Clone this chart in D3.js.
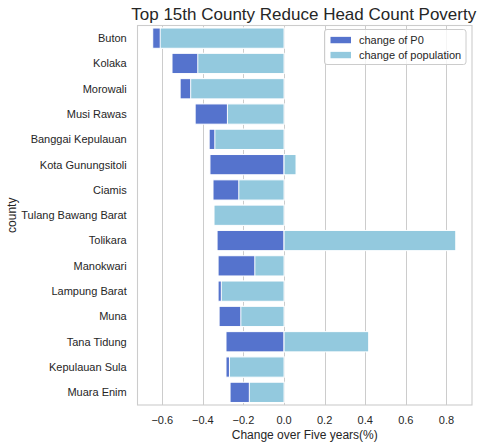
<!DOCTYPE html>
<html>
<head>
<meta charset="utf-8">
<script src="https://cdn.jsdelivr.net/npm/d3@7"></script>
<style>
  body { margin: 0; background: #fff; }
  svg { display: block; font-family: "Liberation Sans", Arial, sans-serif; }
</style>
</head>
<body>
<svg id="chart" width="485" height="446"></svg>
<script>
// ---- data ----
const counties = ["Buton", "Kolaka", "Morowali", "Musi Rawas", "Banggai Kepulauan",
  "Kota Gunungsitoli", "Ciamis", "Tulang Bawang Barat", "Tolikara", "Manokwari",
  "Lampung Barat", "Muna", "Tana Tidung", "Kepulauan Sula", "Muara Enim"];
const changeP0 = [-0.647, -0.552, -0.512, -0.438, -0.369, -0.365, -0.350, -0.340,
  -0.330, -0.325, -0.325, -0.320, -0.286, -0.286, -0.266];
const changePop = [-0.610, -0.425, -0.460, -0.279, -0.341, 0.059, -0.223, -0.345,
  0.846, -0.144, -0.309, -0.213, 0.417, -0.269, -0.171];
const xTicks = [-0.6, -0.4, -0.2, 0.0, 0.2, 0.4, 0.6, 0.8];
const seriesNames = ["change of P0", "change of population"];
const titleText = "Top 15th County Reduce Head Count Poverty";
const xLabelText = "Change over Five years(%)";
const yLabelText = "county";

// ---- layout ----
const pL = 137.5, pR = 472, pT = 25.5, pB = 405;
const colP0 = "#5573cd", colPop = "#93c9de";
const textCol = "#262626", gridCol = "#cccccc";

const svg = d3.select("#chart");
const x = d3.scaleLinear().domain([-0.722, 0.926]).range([pL, pR]);
const y = d3.scaleBand().domain(counties).range([pT, pB]).paddingInner(0.2).paddingOuter(0.1);

const fmt = v => (v < 0 ? "\u2212" : "") + Math.abs(v).toFixed(1);

// grid
svg.append("g").selectAll("line").data(xTicks).join("line")
  .attr("x1", d => Math.round(x(d)) + 0.5).attr("x2", d => Math.round(x(d)) + 0.5)
  .attr("y1", pT).attr("y2", pB)
  .attr("stroke", gridCol).attr("stroke-width", 1);

// bars: P0 first, population on top
const rows = counties.map((c, i) => ({ c, p0: changeP0[i], pop: changePop[i] }));
function drawBars(key, color) {
  svg.append("g").selectAll("rect").data(rows).join("rect")
    .attr("x", d => x(Math.min(0, d[key])))
    .attr("width", d => Math.abs(x(d[key]) - x(0)))
    .attr("y", d => y(d.c))
    .attr("height", y.bandwidth())
    .attr("fill", color)
    .attr("stroke", "#ffffff").attr("stroke-width", 1);
}
drawBars("p0", colP0);
drawBars("pop", colPop);

// frame
svg.append("rect").attr("x", pL).attr("y", pT)
  .attr("width", pR - pL).attr("height", pB - pT)
  .attr("fill", "none").attr("stroke", gridCol).attr("stroke-width", 1.1);

// y tick labels
svg.append("g").selectAll("text").data(counties).join("text")
  .attr("x", pL - 10.8)
  .attr("y", d => y(d) + y.bandwidth() / 2)
  .attr("dy", "0.35em")
  .attr("text-anchor", "end")
  .attr("font-size", "11px").attr("fill", textCol)
  .text(d => d);

// x tick labels
svg.append("g").selectAll("text").data(xTicks).join("text")
  .attr("x", d => x(d))
  .attr("y", 423.5)
  .attr("text-anchor", "middle")
  .attr("font-size", "11px").attr("fill", textCol)
  .text(fmt);

// axis labels
svg.append("text").attr("x", (pL + pR) / 2).attr("y", 438.5)
  .attr("text-anchor", "middle").attr("font-size", "12px").attr("fill", textCol)
  .text(xLabelText);
svg.append("text")
  .attr("transform", `translate(15.5,${(pT + pB) / 2}) rotate(-90)`)
  .attr("text-anchor", "middle").attr("font-size", "12px").attr("fill", textCol)
  .text(yLabelText);

// title
svg.append("text").attr("x", (pL + pR) / 2 - 1).attr("y", 19.5)
  .attr("text-anchor", "middle").attr("font-size", "17px").attr("fill", textCol)
  .text(titleText);

// legend
const lg = svg.append("g");
lg.append("rect").attr("x", 324.5).attr("y", 29.5).attr("width", 141.5).attr("height", 35)
  .attr("rx", 2.5).attr("fill", "#ffffff").attr("fill-opacity", 0.8)
  .attr("stroke", gridCol).attr("stroke-width", 1);
[colP0, colPop].forEach((c, i) => {
  const cy = 40 + i * 15;
  lg.append("rect").attr("x", 330).attr("y", cy - 3.7).attr("width", 21.5).attr("height", 7.5)
    .attr("fill", c).attr("stroke", "#ffffff").attr("stroke-width", 1);
  lg.append("text").attr("x", 359).attr("y", cy).attr("dy", "0.35em")
    .attr("font-size", "11px").attr("fill", textCol).text(seriesNames[i]);
});
</script>
</body>
</html>
